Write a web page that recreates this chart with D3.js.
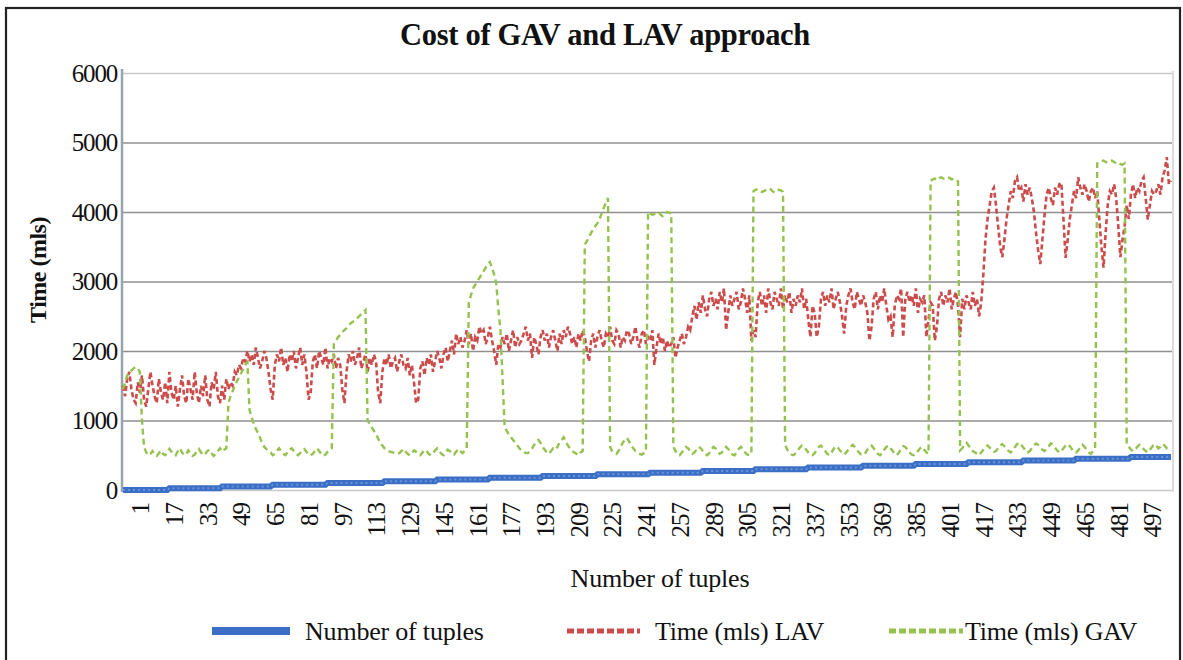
<!DOCTYPE html>
<html>
<head>
<meta charset="utf-8">
<script src="https://cdn.jsdelivr.net/npm/d3@7"></script>
<style>
  html, body { margin: 0; padding: 0; background: #fff; }
  svg { display: block; }
  text { font-family: "Liberation Serif", "Times New Roman", serif; fill: #111; }
</style>
</head>
<body>
<svg id="chart" width="1183" height="660"></svg>
<script>
// ---------------- DATA ----------------
const title = "Cost of GAV and LAV approach";
const seriesNames = ["Number of tuples", "Time (mls) LAV", "Time (mls) GAV"];
const xTickLabels = ["1","17","33","49","65","81","97","113","129","145","161","177","193","209","225","241","257","289","305","321","337","353","369","385","401","417","433","449","465","481","497"];
const yTicks = [0, 1000, 2000, 3000, 4000, 5000, 6000];

// Number of tuples: step levels (start index of each step, level)
const tupleStepStart = [0,22,47,71,97,124,149,174,199,225,250,275,300,325,351,376,401,427,452,478];
const tupleStepLevel = [0,25,50,75,100,125,150,175,200,225,250,275,300,325,350,375,400,425,450,475];

// Time (mls) LAV
const lavValues = [
1500,1350,1600,1700,1450,1300,1250,1550,1400,1650,
1300,1200,1450,1700,1500,1350,1250,1600,1400,1300,
1550,1250,1700,1400,1300,1500,1200,1450,1650,1350,
1250,1600,1450,1300,1700,1400,1250,1500,1350,1650,
1300,1200,1550,1450,1700,1350,1250,1500,1300,1600,
1450,1550,1500,1700,1650,1800,1750,1900,1850,2000,
1850,1950,1800,2050,1900,1750,1850,2000,1900,1700,
1450,1300,1800,1950,1850,2050,1800,1900,1700,1950,
1850,2000,1750,1900,2050,1800,1950,1700,1300,1400,
1850,1950,1750,2000,1900,1800,2050,1750,1900,1850,
1950,1750,1900,1800,1450,1250,1700,1950,1850,2000,
1800,1900,2050,1750,1850,1950,1700,1900,1800,1950,
1850,1400,1250,1700,1900,1800,1950,1750,1850,1900,
1700,1850,1950,1800,1750,1900,1650,1800,1550,1250,
1300,1750,1850,1650,1900,1800,1950,1700,1850,2000,
1900,1750,1950,2050,1850,2000,2150,1950,2250,2100,
2200,2050,2150,2300,2100,2250,2000,2200,2150,2350,
2250,2300,2100,2200,2350,2150,2000,1800,2100,2050,
2200,2100,2250,2000,2150,2300,2050,2200,2100,2150,
2250,2350,2150,2250,1900,2200,2100,1950,2200,2300,
2150,2250,2050,2200,2300,2150,2000,2250,2100,2300,
2200,2350,2250,2100,2200,2050,2250,2150,2300,2200,
2000,1850,2150,2250,2050,2200,2300,2150,2050,2250,
2200,2350,2150,2100,2300,2250,2050,2200,2150,2300,
2250,2100,2200,2350,2150,2050,2250,2300,2100,2200,
2150,2300,1800,2050,2250,2100,2200,2000,2150,2050,
2100,2200,1900,2050,2150,2250,2100,2200,2350,2300,
2500,2650,2450,2700,2550,2800,2600,2500,2750,2850,
2650,2750,2600,2850,2700,2900,2300,2550,2800,2650,
2750,2850,2600,2700,2900,2750,2550,2800,2150,2300,
2200,2700,2850,2650,2800,2550,2900,2700,2600,2850,
2750,2650,2900,2600,2800,2700,2850,2550,2750,2650,
2800,2700,2900,2600,2750,2450,2200,2650,2550,2200,
2350,2750,2850,2650,2800,2700,2900,2600,2750,2850,
2700,2500,2250,2650,2800,2900,2700,2600,2850,2750,
2650,2800,2700,2550,2150,2350,2750,2850,2600,2800,
2700,2900,2650,2450,2500,2200,2650,2800,2750,2900,
2200,2750,2850,2700,2800,2650,2900,2550,2750,2700,
2800,2200,2450,2700,2650,2150,2350,2750,2850,2650,
2800,2700,2900,2600,2750,2850,2650,2200,2750,2600,
2800,2700,2600,2850,2650,2750,2500,2700,3100,3600,
3900,4100,4300,4350,4100,3800,3500,3350,3600,3900,
4100,4300,4200,4450,4500,4300,4350,4150,4400,4250,
4350,4200,4000,3700,3450,3250,3600,3950,4250,4350,
4200,4100,4350,4250,4400,4420,3900,3340,3600,3900,
4100,4300,4200,4500,4350,4250,4400,4300,4150,4300,
4350,4200,4300,3900,3500,3200,3700,4100,4300,4250,
4400,4200,3800,3350,3600,3800,4100,3900,4250,4400,
4200,4350,4300,4450,4500,4200,3890,4100,4300,4250,
4300,4400,4250,4500,4600,4790,4400,4450
];

// Time (mls) GAV
const gavValues = [
1450,1550,1650,1700,1720,1750,1770,1750,1700,1000,
620,540,500,520,560,510,490,530,570,520,
500,540,590,550,510,500,560,600,540,500,
520,570,530,490,510,560,590,540,500,520,
560,580,530,490,520,560,600,550,580,600,
1250,1350,1420,1500,1560,1620,1680,1740,1800,1840,
1150,1050,950,880,820,750,680,620,590,560,
540,500,520,560,600,560,520,500,540,580,
600,560,520,500,530,570,590,550,510,500,
520,560,600,560,520,490,510,550,580,600,
2100,2150,2200,2230,2270,2300,2330,2360,2400,2420,
2440,2470,2500,2530,2560,2590,1000,950,900,850,
800,740,680,640,600,580,560,550,540,530,
520,530,560,590,550,520,500,530,570,550,
520,500,540,580,560,520,500,530,570,600,
560,520,500,540,580,560,520,510,550,590,
560,530,560,590,2700,2800,2900,2950,3000,3050,
3100,3150,3200,3250,3280,3200,3100,2980,2600,2300,
1600,900,850,800,760,720,680,640,600,570,
550,530,530,560,600,650,700,720,680,620,
580,540,520,560,600,580,620,680,720,760,
700,640,600,560,540,520,500,540,560,3530,
3580,3640,3700,3750,3800,3840,3900,3980,4060,4130,
4200,620,560,540,520,560,620,680,720,750,
700,640,600,560,540,520,510,530,550,4000,
3980,3960,3970,3990,4000,3960,3940,3970,4000,3990,
3980,620,560,520,500,540,580,620,600,560,
520,540,580,620,600,560,520,500,530,580,
620,600,560,520,540,580,620,590,550,510,
500,540,590,620,580,540,510,500,520,4300,
4320,4330,4310,4290,4300,4320,4340,4330,4300,4280,
4300,4320,4310,4290,650,580,540,510,500,530,
570,610,640,620,580,540,510,500,530,580,
620,640,600,560,520,500,540,590,630,610,
570,530,510,540,580,620,650,620,580,540,
510,500,530,580,620,640,600,560,520,500,
530,580,620,640,600,560,520,500,540,590,
630,620,580,540,510,500,520,560,600,620,
580,540,520,4450,4470,4480,4460,4490,4500,4480,
4480,4500,4490,4470,4480,4460,4440,570,600,650,
680,640,600,560,540,520,500,540,580,620,
640,610,580,550,560,600,640,660,630,590,
560,540,570,620,660,680,650,610,570,540,
560,600,640,670,650,610,580,560,590,630,
670,650,610,570,540,560,600,640,660,630,
590,560,540,570,610,650,620,580,540,520,
560,600,4700,4720,4730,4740,4720,4710,4730,4740,
4720,4700,4710,4690,4680,4700,650,620,580,560,
580,620,650,630,590,560,540,580,620,660,
640,600,620,660,640,600,580,560
];

// Expand the tuple step runs to one value per category
const N = lavValues.length;
const tupleValues = [];
for (let s = 0; s < tupleStepStart.length; s++) {
  const end = s + 1 < tupleStepStart.length ? tupleStepStart[s + 1] : N;
  for (let i = tupleStepStart[s]; i < end; i++) tupleValues.push(tupleStepLevel[s]);
}
const xTickIndex = xTickLabels.map((_, k) => 8 + 16 * k);

// ---------------- DRAW ----------------
const svg = d3.select("#chart");
const W = 1183, H = 660;
const plot = { left: 122, right: 1172, top: 73, bottom: 490 };
const serif = '"Liberation Serif", "Times New Roman", serif';

svg.append("rect").attr("width", W).attr("height", H).attr("fill", "#fff");
// outer frame
svg.append("rect").attr("x", 6).attr("y", 8).attr("width", 1174).attr("height", 700)
  .attr("fill", "none").attr("stroke", "#222").attr("stroke-width", 2.2);

const x = d3.scaleLinear().domain([0, N - 1]).range([plot.left + 1, plot.right - 1]);
const y = d3.scaleLinear().domain([0, 6000]).range([plot.bottom, plot.top]);

// gridlines
const grid = svg.append("g").attr("transform", `translate(${plot.left},0)`)
  .call(d3.axisLeft(y).tickValues(yTicks).tickSize(-(plot.right - plot.left)).tickFormat(""));
grid.select(".domain").remove();
grid.selectAll(".tick line")
  .attr("stroke", d => (d === 0 || d === 6000) ? "#c9c9c9" : "#8f8f8f")
  .attr("stroke-width", 1.6);

// right border of plot area
svg.append("line").attr("x1", plot.right + 1).attr("x2", plot.right + 1)
  .attr("y1", plot.top - 2).attr("y2", plot.bottom + 2)
  .attr("stroke", "#cfcfcf").attr("stroke-width", 1.5);

// y axis labels
const yAxis = svg.append("g").attr("transform", `translate(${plot.left},0)`)
  .call(d3.axisLeft(y).tickValues(yTicks).tickSize(0).tickPadding(5).tickFormat(d3.format("d")));
yAxis.select(".domain").remove();
yAxis.selectAll("text").attr("font-family", serif).attr("font-size", 25)
  .attr("letter-spacing", -1.2).attr("fill", "#111");

// left axis line
svg.append("line").attr("x1", plot.left).attr("x2", plot.left)
  .attr("y1", plot.top - 4).attr("y2", plot.bottom + 2)
  .attr("stroke", "#98a3ab").attr("stroke-width", 2.5);

// x axis labels
const xAxis = svg.append("g").attr("transform", `translate(0,${plot.bottom})`)
  .call(d3.axisBottom(x).tickValues(xTickIndex).tickSize(0).tickPadding(0)
    .tickFormat((d, i) => xTickLabels[i]));
xAxis.select(".domain").remove();
xAxis.selectAll("text")
  .attr("transform", "rotate(-90)")
  .attr("text-anchor", "end")
  .attr("x", -13).attr("y", 0).attr("dy", "0.35em")
  .attr("font-family", serif).attr("font-size", 25).attr("letter-spacing", -1)
  .attr("fill", "#111");

// series
const line = d3.line().x((d, i) => x(i)).y(d => y(d));

svg.append("path").datum(tupleValues).attr("d", line)
  .attr("fill", "none").attr("stroke", "#3b6fc6").attr("stroke-width", 6);
svg.append("path").datum(tupleValues).attr("d", line)
  .attr("fill", "none").attr("stroke", "#7aa3e0").attr("stroke-width", 2)
  .attr("stroke-dasharray", "2,3").attr("opacity", 0.7);

svg.append("path").datum(lavValues).attr("d", line)
  .attr("fill", "none").attr("stroke", "#cc4b4b").attr("stroke-width", 2.6)
  .attr("stroke-dasharray", "5,3");

svg.append("path").datum(gavValues).attr("d", line)
  .attr("fill", "none").attr("stroke", "#95c24e").attr("stroke-width", 2.4)
  .attr("stroke-dasharray", "6,4");

// title
svg.append("text").attr("x", 605).attr("y", 45).attr("text-anchor", "middle")
  .attr("font-family", serif).attr("font-size", 30.5).attr("font-weight", "bold")
  .attr("letter-spacing", -0.3).text(title);

// axis titles
svg.append("text").attr("transform", "translate(46,270) rotate(-90)")
  .attr("text-anchor", "middle").attr("font-family", serif).attr("font-size", 24)
  .attr("font-weight", "bold").attr("letter-spacing", -0.5).text("Time (mls)");
svg.append("text").attr("x", 660).attr("y", 587).attr("text-anchor", "middle")
  .attr("font-family", serif).attr("font-size", 26).attr("letter-spacing", -0.2)
  .text("Number of tuples");

// legend
const legend = [
  { name: seriesNames[0], x0: 212, x1: 290, tx: 305, color: "#3b6fc6", w: 8, dash: null },
  { name: seriesNames[1], x0: 567, x1: 640, tx: 655, color: "#cc4b4b", w: 5, dash: "7,3" },
  { name: seriesNames[2], x0: 889, x1: 963, tx: 965, color: "#95c24e", w: 5, dash: "7,3" }
];
const ly = 631;
const lg = svg.append("g");
legend.forEach(l => {
  const ln = lg.append("line").attr("x1", l.x0).attr("x2", l.x1).attr("y1", ly).attr("y2", ly)
    .attr("stroke", l.color).attr("stroke-width", l.w);
  if (l.dash) ln.attr("stroke-dasharray", l.dash);
  lg.append("text").attr("x", l.tx).attr("y", ly).attr("dy", "0.35em")
    .attr("font-family", serif).attr("font-size", 26).attr("letter-spacing", -0.2)
    .text(l.name);
});
</script>
</body>
</html>
